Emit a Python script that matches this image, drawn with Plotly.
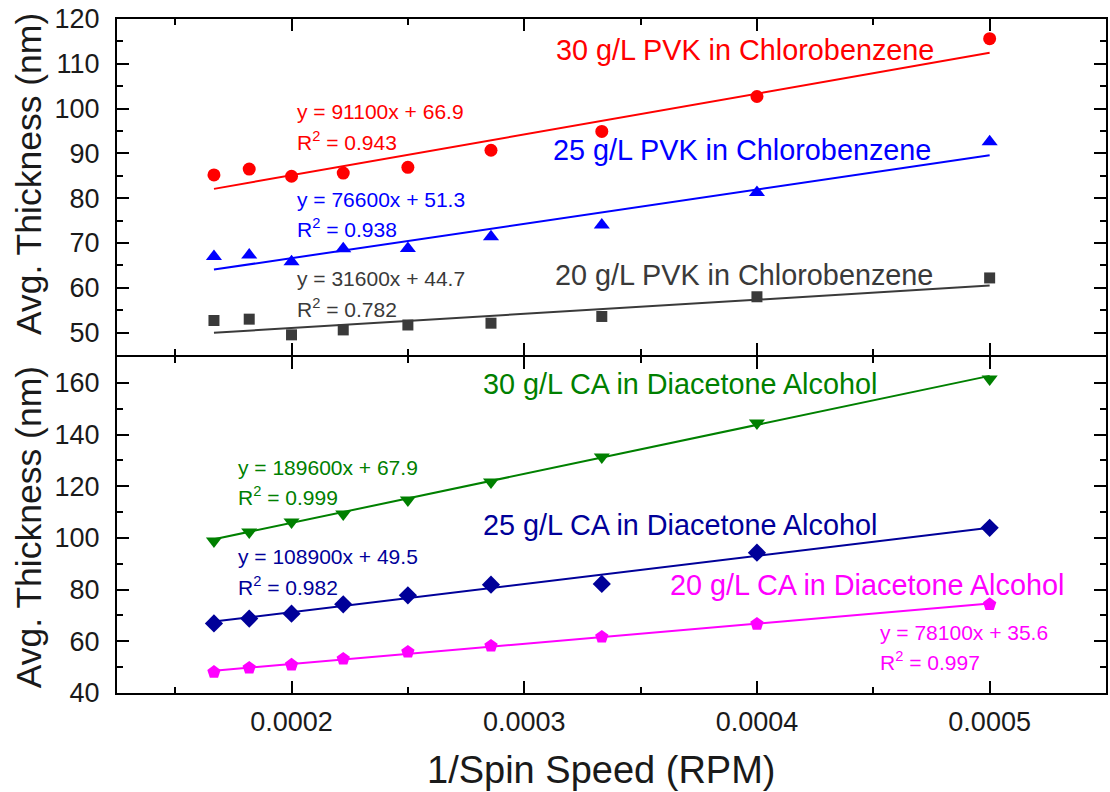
import plotly.graph_objects as go

# Spin speeds (RPM) and their reciprocals used on the x axis
spin_rpm = [6000, 5500, 5000, 4500, 4000, 3500, 3000, 2500, 2000]
inv_speed = [1.0 / s for s in spin_rpm]

# Average film thickness (nm) - PVK in chlorobenzene
pvk_30 = [85.2, 86.5, 84.9, 85.6, 86.9, 90.7, 94.9, 102.7, 115.6]
pvk_25 = [67.0, 67.3, 65.8, 68.7, 68.8, 71.4, 74.0, 81.3, 92.6]
pvk_20 = [52.7, 53.0, 49.5, 50.6, 51.7, 52.1, 53.6, 58.0, 62.2]

# Average film thickness (nm) - CA in diacetone alcohol
ca_30 = [98.8, 102.3, 106.2, 109.3, 114.7, 121.6, 131.3, 144.5, 161.5]
ca_25 = [66.9, 68.8, 70.7, 74.3, 77.8, 81.9, 82.2, 94.3, 103.9]
ca_20 = [48.1, 49.7, 50.9, 53.2, 55.9, 58.2, 61.7, 66.7, 74.3]

# Linear fits: slope, intercept, R^2
fit_pvk_30 = (91100, 66.9, 0.943)
fit_pvk_25 = (76600, 51.3, 0.938)
fit_pvk_20 = (31600, 44.7, 0.782)
fit_ca_30 = (189600, 67.9, 0.999)
fit_ca_25 = (108900, 49.5, 0.982)
fit_ca_20 = (78100, 35.6, 0.997)

FONT = "Liberation Sans, Arial, sans-serif"

RED = "#ff0000"
BLUE = "#0000ff"
GRAY = "#3a3a3a"
GREEN = "#008000"
NAVY = "#000099"
MAGENTA = "#ff00ff"

fig = go.Figure()


def add_series(xa, ya, values, fit, color, symbol, msize):
    # measured points
    fig.add_trace(go.Scatter(
        x=inv_speed, y=values, mode="markers", xaxis=xa, yaxis=ya,
        marker=dict(symbol=symbol, size=msize, color=color, line=dict(width=0)),
        showlegend=False, hoverinfo="x+y"))
    # fitted line across the measured range
    slope, icpt, _ = fit
    xs = [min(inv_speed), max(inv_speed)]
    fig.add_trace(go.Scatter(
        x=xs, y=[slope * v + icpt for v in xs], mode="lines", xaxis=xa, yaxis=ya,
        line=dict(color=color, width=2), showlegend=False, hoverinfo="skip"))


add_series("x", "y", pvk_30, fit_pvk_30, RED, "circle", 13)
add_series("x", "y", pvk_25, fit_pvk_25, BLUE, "triangle-up", 14)
add_series("x", "y", pvk_20, fit_pvk_20, GRAY, "square", 11)
add_series("x2", "y2", ca_30, fit_ca_30, GREEN, "triangle-down", 14)
add_series("x2", "y2", ca_25, fit_ca_25, NAVY, "diamond", 14)
add_series("x2", "y2", ca_20, fit_ca_20, MAGENTA, "pentagon", 14)

annotations = []


def label(xref, yref, x, y, text, color, size):
    annotations.append(dict(
        xref=xref, yref=yref, x=x, y=y, text=text, showarrow=False,
        xanchor="left", yanchor="middle",
        font=dict(family=FONT, size=size, color=color)))


def fit_text(fit):
    slope, icpt, r2 = fit
    return f"y = {slope}x + {icpt}", f"R<sup>2</sup> = {r2}"


TS = 28.8
ES = 21

# top panel labels
label("x", "y", 0.0003129, 113.1, "30 g/L PVK in Chlorobenzene", RED, TS)
label("x", "y", 0.0003116, 90.7, "25 g/L PVK in Chlorobenzene", BLUE, TS)
label("x", "y", 0.0003124, 62.8, "20 g/L PVK in Chlorobenzene", GRAY, TS)
for fit, color, y1, y2 in [(fit_pvk_30, RED, 99.3, 92.8),
                           (fit_pvk_25, BLUE, 79.8, 73.3),
                           (fit_pvk_20, GRAY, 62.1, 55.6)]:
    eq, r2 = fit_text(fit)
    label("x", "y", 0.0002017, y1, eq, color, ES)
    label("x", "y", 0.0002017, y2, r2, color, ES)

# bottom panel labels
label("x2", "y2", 0.0002815, 159.6, "30 g/L CA in Diacetone Alcohol", GREEN, TS)
label("x2", "y2", 0.0002815, 105.0, "25 g/L CA in Diacetone Alcohol", NAVY, TS)
label("x2", "y2", 0.0003618, 81.8, "20 g/L CA in Diacetone Alcohol", MAGENTA, TS)
for fit, color, x0, y1, y2 in [(fit_ca_30, GREEN, 0.000176, 127.4, 116.4),
                               (fit_ca_25, NAVY, 0.000176, 93.0, 81.4),
                               (fit_ca_20, MAGENTA, 0.0004519, 63.6, 52.4)]:
    eq, r2 = fit_text(fit)
    label("x2", "y2", x0, y1, eq, color, ES)
    label("x2", "y2", x0, y2, r2, color, ES)

# axis titles
for yc in (0.770, 0.246):
    annotations.append(dict(
        xref="paper", yref="paper", x=-0.089, y=yc, text="Avg. Thickness (nm)",
        textangle=-90, showarrow=False, xanchor="center", yanchor="middle",
        font=dict(family=FONT, size=35.5, color="#1a1a1a")))
annotations.append(dict(
    xref="paper", yref="paper", x=0.49, y=-0.114, text="1/Spin Speed (RPM)",
    showarrow=False, xanchor="center", yanchor="middle",
    font=dict(family=FONT, size=38, color="#1a1a1a")))

XRANGE = [0.000125, 0.00055]
GAP = 1.0 / 674  # half of the gap so the two shared border lines coincide

axis_common = dict(
    showline=True, linecolor="black", linewidth=2, mirror="allticks",
    ticks="inside", ticklen=12, tickwidth=2, tickcolor="black",
    showgrid=False, zeroline=False,
    tickfont=dict(family=FONT, size=27, color="#1a1a1a"),
)

fig.update_layout(
    width=1110, height=792,
    margin=dict(l=117, r=2, t=19, b=99),
    paper_bgcolor="white", plot_bgcolor="white",
    showlegend=False,
    annotations=annotations,
    xaxis=dict(axis_common, range=XRANGE, anchor="y", dtick=0.0001, tick0=0,
               showticklabels=False,
               minor=dict(ticks="inside", ticklen=6, tickwidth=2, dtick=0.00005,
                          tick0=0, tickcolor="black")),
    xaxis2=dict(axis_common, range=XRANGE, anchor="y2", matches="x",
                dtick=0.0001, tick0=0, tickformat=".4f", exponentformat="none",
                ticklabelstandoff=4,
                minor=dict(ticks="inside", ticklen=6, tickwidth=2, dtick=0.00005,
                           tick0=0, tickcolor="black")),
    yaxis=dict(axis_common, domain=[0.5 + GAP, 1], range=[45, 120], anchor="x",
               dtick=10, tick0=0, ticklabelstandoff=10,
               minor=dict(ticks="inside", ticklen=6, tickwidth=2, dtick=5,
                          tick0=0, tickcolor="black")),
    yaxis2=dict(axis_common, domain=[0, 0.5 - GAP], range=[40, 170], anchor="x2",
                dtick=20, tick0=0, ticklabelstandoff=10,
                minor=dict(ticks="inside", ticklen=6, tickwidth=2, dtick=10,
                           tick0=0, tickcolor="black")),
)

fig.write_html("out.html")
